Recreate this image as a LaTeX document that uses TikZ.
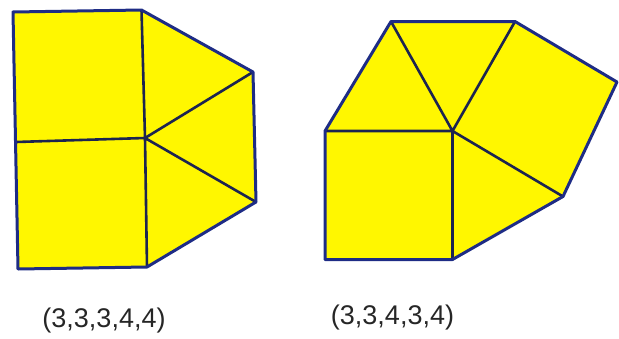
\documentclass[tikz,border=0pt]{standalone}
\usepackage{fontspec}
\setmainfont{Liberation Sans}
\begin{document}
\begin{tikzpicture}[x=1pt,y=-1pt,
  tile/.style={draw=navyline, line width=3pt, line join=round},
  inner/.style={draw=darkline, line width=2.6pt},
  lbl/.style={font=\fontsize{27}{30}\selectfont, text=black!85, inner sep=0pt}]
\definecolor{navyline}{HTML}{1E2C85}
\definecolor{darkline}{HTML}{1C2450}
\definecolor{tilefill}{HTML}{FFF700}
\useasboundingbox (0,0) rectangle (619,338);
% left figure
\coordinate (a1) at (13,12);
\coordinate (a2) at (141.5,10);
\coordinate (a3) at (253,72);
\coordinate (ac) at (145,138);
\coordinate (a4) at (16,142);
\coordinate (a5) at (256,202);
\coordinate (a6) at (147,267);
\coordinate (a7) at (18,269);
\fill[tilefill] (a1) -- (a2) -- (a3) -- (a5) -- (a6) -- (a7) -- cycle;
\draw[inner] (a4) -- (ac) -- (a3) (ac) -- (a5) (a2) -- (ac) -- (a6);
\draw[tile] (a1) -- (a2) -- (a3) -- (a5) -- (a6) -- (a7) -- cycle;
% right figure
\coordinate (b1) at (391,21.5);
\coordinate (b2) at (515,21.5);
\coordinate (b3) at (617,82);
\coordinate (bc) at (452.5,131);
\coordinate (b4) at (325,131);
\coordinate (b5) at (563,196.5);
\coordinate (b6) at (452.5,259.5);
\coordinate (b7) at (325,259.5);
\fill[tilefill] (b1) -- (b2) -- (b3) -- (b5) -- (b6) -- (b7) -- (b4) -- cycle;
\draw[inner] (b4) -- (bc) -- (b1) (bc) -- (b2) (bc) -- (b5) (bc) -- (b6);
\draw[tile] (b4) -- (b1) -- (b2) -- (b3) -- (b5) -- (b6) -- (b7) -- cycle;
% labels
\node[lbl] (l1) at (104,321) {(3,3,3,4,4)};
\node[lbl] (l2) at (392.5,318) {(3,3,4,3,4)};
\end{tikzpicture}
\end{document}
